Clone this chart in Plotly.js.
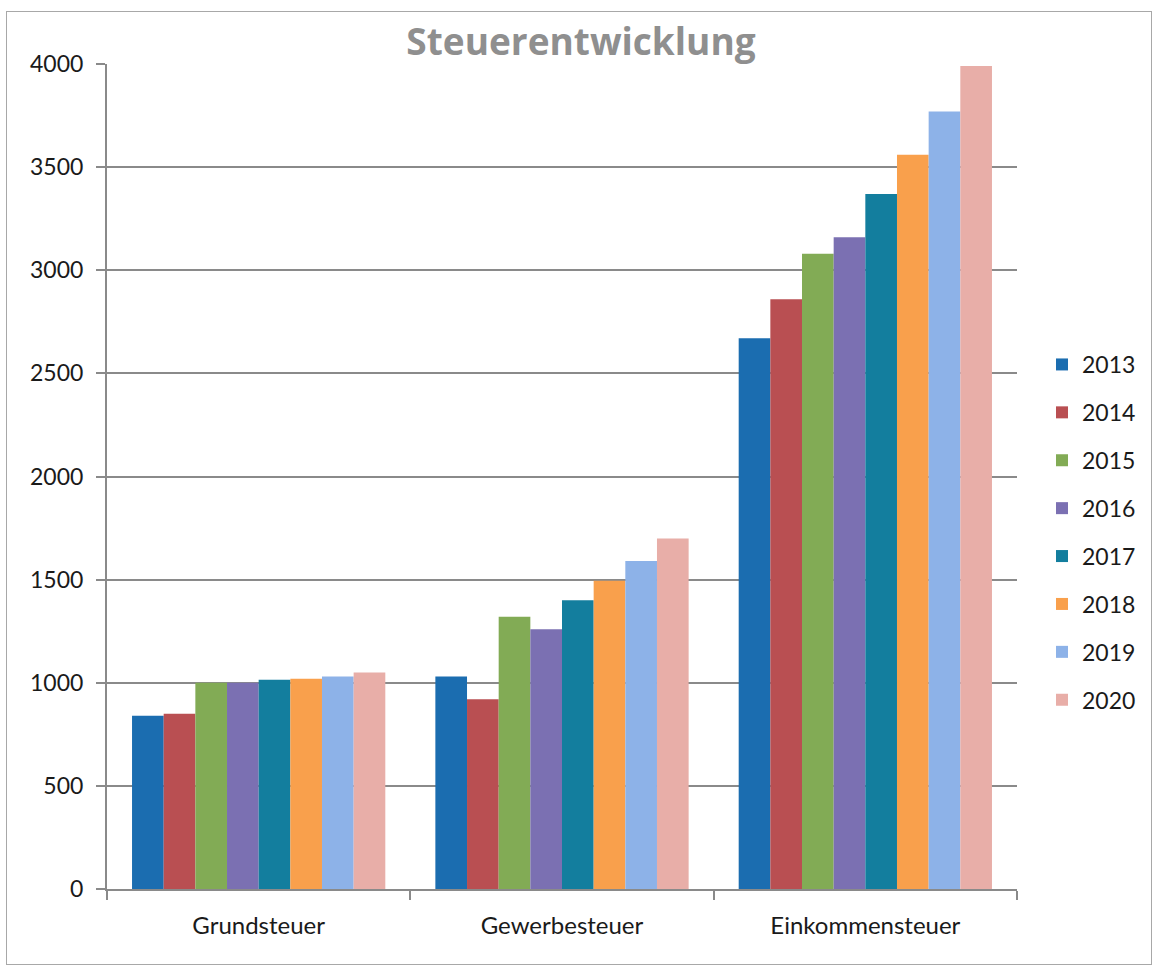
<!DOCTYPE html>
<html>
<head>
<meta charset="utf-8">
<script src="https://cdn.plot.ly/plotly-3.0.1.min.js"></script>
<style>
  html, body { margin: 0; padding: 0; background: #fff; }
  #frame { position: absolute; left: 6px; top: 11px; width: 1144px; height: 952px; border: 1px solid #a8a8a8; }
  #chart { position: absolute; left: 0; top: 0; width: 1157px; height: 969px; }
</style>
</head>
<body>
<div id="frame"></div>
<div id="chart"></div>
<script>
const categories = ["Grundsteuer", "Gewerbesteuer", "Einkommensteuer"];
const years = ["2013", "2014", "2015", "2016", "2017", "2018", "2019", "2020"];
const v2013 = [840, 1030, 2670];
const v2014 = [850, 920, 2860];
const v2015 = [1000, 1320, 3080];
const v2016 = [1000, 1260, 3160];
const v2017 = [1015, 1400, 3370];
const v2018 = [1020, 1495, 3560];
const v2019 = [1030, 1590, 3770];
const v2020 = [1050, 1700, 3990];
const seriesValues = [v2013, v2014, v2015, v2016, v2017, v2018, v2019, v2020];
const colors = ["#1B6DB0", "#B94F52", "#82AB55", "#7B70B2", "#137E9E", "#F9A04C", "#8DB2E8", "#E8AEA8"];
const yTicks = [0, 500, 1000, 1500, 2000, 2500, 3000, 3500, 4000];

const traces = years.map((yr, i) => ({
  type: "bar",
  name: yr,
  x: categories,
  y: seriesValues[i],
  marker: { color: colors[i], line: { width: 0 } },
  legendgroup: yr,
  hoverinfo: "x+y+name"
}));

const layout = {
  width: 1157,
  height: 969,
  paper_bgcolor: "rgba(0,0,0,0)",
  plot_bgcolor: "rgba(0,0,0,0)",
  margin: { l: 107, r: 140, t: 64, b: 80 },
  barmode: "group",
  bargap: 0.165,
  bargroupgap: 0,
  title: {
    text: "Steuerentwicklung",
    font: { family: "Open Sans", size: 37, color: "#8f8f8f", weight: "bold" },
    x: 581 / 1157,
    xanchor: "center",
    xref: "container",
    yref: "container",
    y: 1 - 42 / 969,
    yanchor: "middle"
  },
  font: { family: "Lato", color: "#1a1a1a" },
  xaxis: {
    type: "category",
    tickson: "boundaries",
    ticks: "outside",
    ticklen: 9,
    tickwidth: 2,
    tickcolor: "#8a8a8a",
    showline: true,
    linecolor: "#8a8a8a",
    linewidth: 2,
    showgrid: false,
    ticklabelstandoff: 14,
    tickfont: { family: "Lato", size: 24, color: "#1a1a1a" },
    fixedrange: true
  },
  yaxis: {
    range: [0, 4000],
    tickvals: yTicks,
    ticktext: yTicks.map(String),
    ticks: "outside",
    ticklen: 9,
    tickwidth: 2,
    tickcolor: "#8a8a8a",
    showline: true,
    linecolor: "#8a8a8a",
    linewidth: 2,
    showgrid: true,
    gridcolor: "#8a8a8a",
    gridwidth: 2,
    zeroline: false,
    ticklabelstandoff: 8,
    tickfont: { family: "Lato", size: 23, color: "#1a1a1a" },
    fixedrange: true
  },
  legend: {
    x: 1042 / 1157,
    xref: "container",
    y: 1 - 343 / 969,
    yref: "container",
    xanchor: "left",
    yanchor: "top",
    font: { family: "Lato", size: 23, color: "#1a1a1a" },
    tracegroupgap: 15,
    itemwidth: 30,
    bgcolor: "rgba(0,0,0,0)"
  },
  showlegend: true
};

Plotly.newPlot("chart", traces, layout, { displayModeBar: false, staticPlot: true });
</script>
</body>
</html>
